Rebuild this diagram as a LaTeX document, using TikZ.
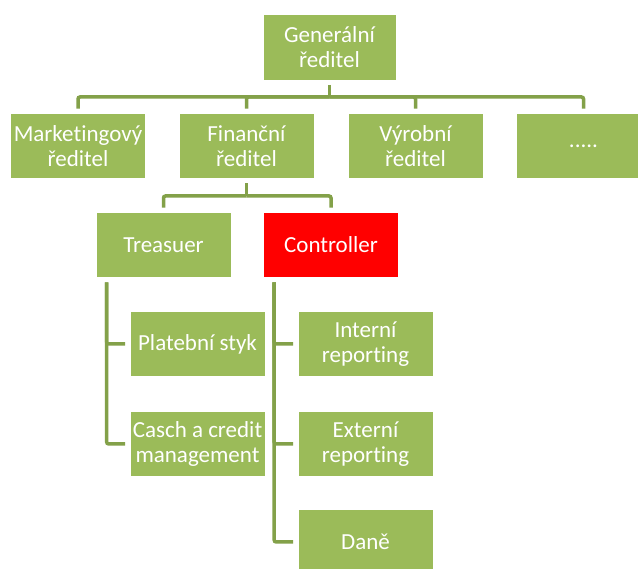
\documentclass[tikz,border=0pt]{standalone}
\usepackage{fontspec}
\setmainfont{Carlito}[Ligatures={NoCommon,NoContextual}]
\definecolor{boxgreen}{HTML}{9BBB59}
\definecolor{linegreen}{HTML}{83A149}
\definecolor{boxred}{HTML}{FF0000}
\tikzset{
  unit/.style={rectangle, fill=boxgreen, draw=white, line width=0.6pt,
    minimum width=135pt, minimum height=65pt, inner sep=2pt,
    text=white, align=center, font=\fontsize{23}{25.5}\selectfont},
  redunit/.style={unit, fill=boxred},
  conn/.style={draw=linegreen, line width=3.5pt, rounded corners=2pt,
    line cap=butt, shorten <=4.5pt, shorten >=4.5pt}
}
\begin{document}
\begin{tikzpicture}[x=1pt, y=-1pt]
  \clip (0,0) rectangle (638,569);
  \fill[white] (0,0) rectangle (638,569);

  % top level
  \node[unit, minimum width=133pt, minimum height=66pt] (g) at (329.5,47) {Generální\\ředitel};

  % directors
  \node[unit] (m) at (78,146)    {Marketingový\\ředitel};
  \node[unit] (f) at (246.5,146) {Finanční\\ředitel};
  \node[unit] (v) at (415.5,146) {Výrobní\\ředitel};
  \node[unit] (d) at (583.5,146) {.....};

  % finance department
  \node[unit]    (t) at (163.5,245) {Treasuer};
  \node[redunit] (c) at (331,245)   {Controller};

  \node[unit] (p)  at (197.5,344) {Platební styk};
  \node[unit] (cc) at (197.5,444) {Casch a credit\\management};

  \node[unit] (i)  at (365.5,344) {Interní\\reporting};
  \node[unit] (e)  at (365.5,444) {Externí\\reporting};
  \node[unit] (dn) at (365.5,542) {Daně};

  % connectors: general director to directors
  \coordinate (b1) at (g.south |- 0,97);
  \draw[conn, shorten >=0pt] (g.south) -- (b1);
  \draw[conn, shorten <=0pt] (b1) -| (m.north);
  \draw[conn, shorten <=0pt] (b1) -| (f.north);
  \draw[conn, shorten <=0pt] (b1) -| (v.north);
  \draw[conn, shorten <=0pt] (b1) -| (d.north);

  % finance director to treasurer and controller
  \coordinate (b2) at (f.south |- 0,196);
  \draw[conn, shorten >=0pt] (f.south) -- (b2);
  \draw[conn, shorten <=0pt] (b2) -| (t.north);
  \draw[conn, shorten <=0pt] (b2) -| (c.north);

  % treasurer branch
  \coordinate (tx) at ([xshift=11pt]t.south west);
  \draw[conn] (tx) |- (p.west);
  \draw[conn] (tx) |- (cc.west);

  % controller branch
  \coordinate (cx) at ([xshift=11pt]c.south west);
  \draw[conn] (cx) |- (i.west);
  \draw[conn] (cx) |- (e.west);
  \draw[conn] (cx) |- (dn.west);
\end{tikzpicture}
\end{document}
